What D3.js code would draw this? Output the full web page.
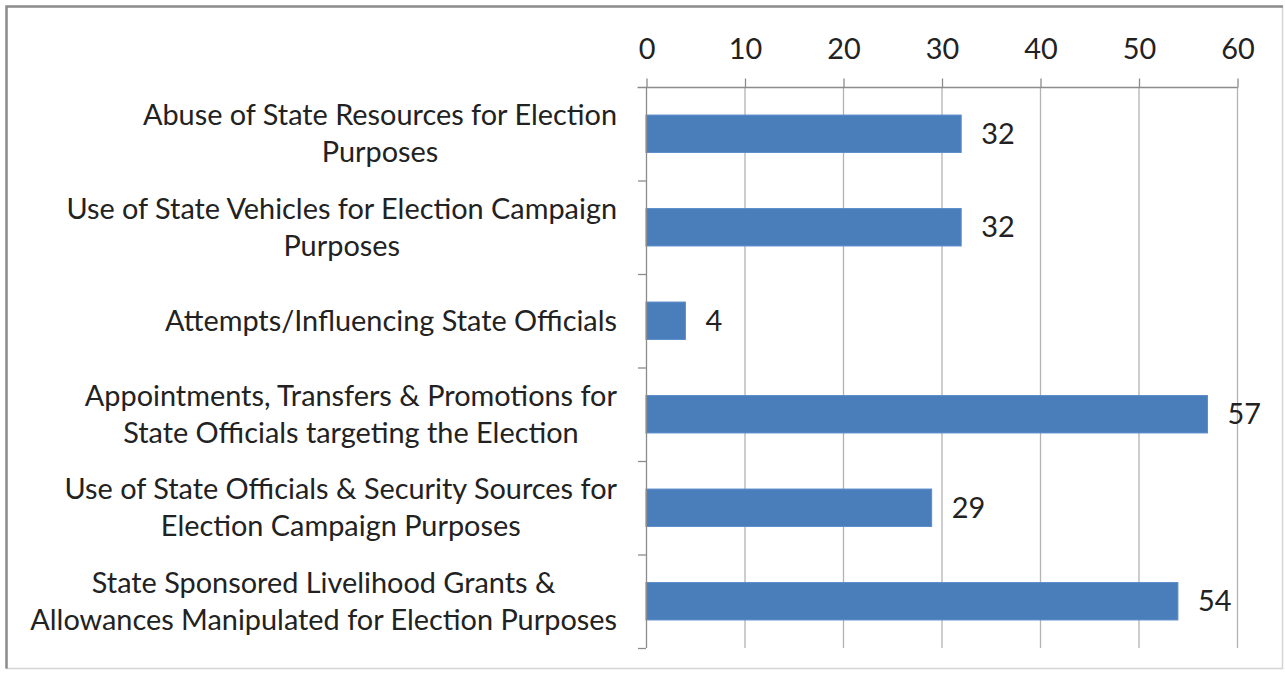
<!DOCTYPE html>
<html>
<head>
<meta charset="utf-8">
<script src="https://cdn.jsdelivr.net/npm/d3@7/dist/d3.min.js"></script>
<style>
  html, body { margin: 0; padding: 0; background: #fff; }
  svg { display: block; }
  text { font-family: "Lato", "Open Sans", sans-serif; fill: #222; }
</style>
</head>
<body>
<svg id="chart" width="1285" height="677"></svg>
<script>
const categories = [
  "Abuse of State Resources for Election\nPurposes",
  "Use of State Vehicles for Election Campaign\nPurposes",
  "Attempts/Influencing State Officials",
  "Appointments, Transfers & Promotions for\nState Officials targeting the Election",
  "Use of State Officials & Security Sources for\nElection Campaign Purposes",
  "State Sponsored Livelihood Grants &\nAllowances Manipulated for Election Purposes"
];
const values = [32, 32, 4, 57, 29, 54];
const xTicks = [0, 10, 20, 30, 40, 50, 60];

(function() {
const svg = d3.select("#chart");
const pL = 646, pR = 1237, pT = 87, pB = 648;

// outer frame
svg.append("rect").attr("x", 6.5).attr("y", 6.5).attr("width", 1276).attr("height", 662)
  .attr("fill", "none").attr("stroke", "#d4d4d4").attr("stroke-width", 1.5);
svg.append("path").attr("d", `M6.5,668.5 V6.5 H1283`).attr("fill", "none")
  .attr("stroke", "#8c8c8c").attr("stroke-width", 2.5);

const x = d3.scaleLinear().domain([0, 60]).range([pL, pR]);
const y = d3.scaleBand().domain(d3.range(categories.length)).range([pT, pB])
  .paddingInner(0.6).paddingOuter(0.3);
const yBand = d3.scaleBand().domain(d3.range(categories.length)).range([pT, pB]);

// gridlines
svg.append("g").selectAll("line").data(xTicks.filter(d => d > 0)).join("line")
  .attr("x1", d => x(d) + 0.5).attr("x2", d => x(d) + 0.5)
  .attr("y1", pT).attr("y2", pB)
  .attr("stroke", "#b3b3b3").attr("stroke-width", 1.3);

// bars
svg.append("g").selectAll("rect").data(values).join("rect")
  .attr("x", x(0)).attr("y", (d, i) => y(i))
  .attr("width", d => x(d) - x(0)).attr("height", y.bandwidth())
  .attr("fill", "#4a7ebb").attr("stroke", "#5a8ccb").attr("stroke-width", 1);

// top axis
const xAxis = d3.axisTop(x).tickValues(xTicks).tickSize(9).tickSizeOuter(0).tickPadding(20);
const gx = svg.append("g").attr("transform", `translate(0.5,${pT + 0.5})`).call(xAxis);
gx.select(".domain").attr("stroke", "#8c8c8c").attr("stroke-width", 1.3)
  .attr("d", `M${pL - 9},0H${pR}`);
gx.selectAll(".tick line").attr("stroke", "#8c8c8c").attr("stroke-width", 1.3);
gx.selectAll(".tick text").attr("fill", "#222").style("font-family", "Lato, 'Open Sans', sans-serif");

// left category axis (ticks between categories)
const gy = svg.append("g");
gy.append("line").attr("x1", pL + 0.5).attr("x2", pL + 0.5).attr("y1", pT).attr("y2", pB)
  .attr("stroke", "#8c8c8c").attr("stroke-width", 1.3);
gy.selectAll("line.t").data(d3.range(1, categories.length + 1)).join("line").attr("class", "t")
  .attr("x1", pL - 8).attr("x2", pL)
  .attr("y1", d => yBand(d - 1) + yBand.bandwidth() + 0.5)
  .attr("y2", d => yBand(d - 1) + yBand.bandwidth() + 0.5)
  .attr("stroke", "#8c8c8c").attr("stroke-width", 1.3);

// category labels
const lineH = 37;
const labelRight = pL - 29;
const labels = svg.append("g").selectAll("text").data(categories).join("text")
  .attr("text-anchor", "middle").attr("font-size", 26)
  .each(function(d, i) {
    const lines = d.split("\n");
    const cy = yBand(i) + yBand.bandwidth() / 2;
    const t = d3.select(this);
    lines.forEach((ln, j) => {
      t.append("tspan")
        .attr("y", cy + (j - (lines.length - 1) / 2) * lineH)
        .attr("dy", "0.35em").text(ln);
    });
  });

// fit font size so the longest line spans like the reference
let maxW = 0;
labels.selectAll("tspan").each(function() { maxW = Math.max(maxW, this.getComputedTextLength()); });
const fs = 26 * 587 / maxW;
labels.attr("font-size", fs);

// center wrapped lines within each label block, block right-aligned
labels.each(function() {
  const t = d3.select(this);
  let w = 0;
  t.selectAll("tspan").each(function() { w = Math.max(w, this.getComputedTextLength()); });
  t.selectAll("tspan").attr("x", labelRight - w / 2);
});

gx.selectAll(".tick text").attr("font-size", fs);

// value labels
svg.append("g").selectAll("text").data(values).join("text")
  .attr("x", d => x(d) + 20).attr("y", (d, i) => y(i) + y.bandwidth() / 2)
  .attr("dy", "0.35em").attr("font-size", fs).text(d => d);
})();
</script>
</body>
</html>
